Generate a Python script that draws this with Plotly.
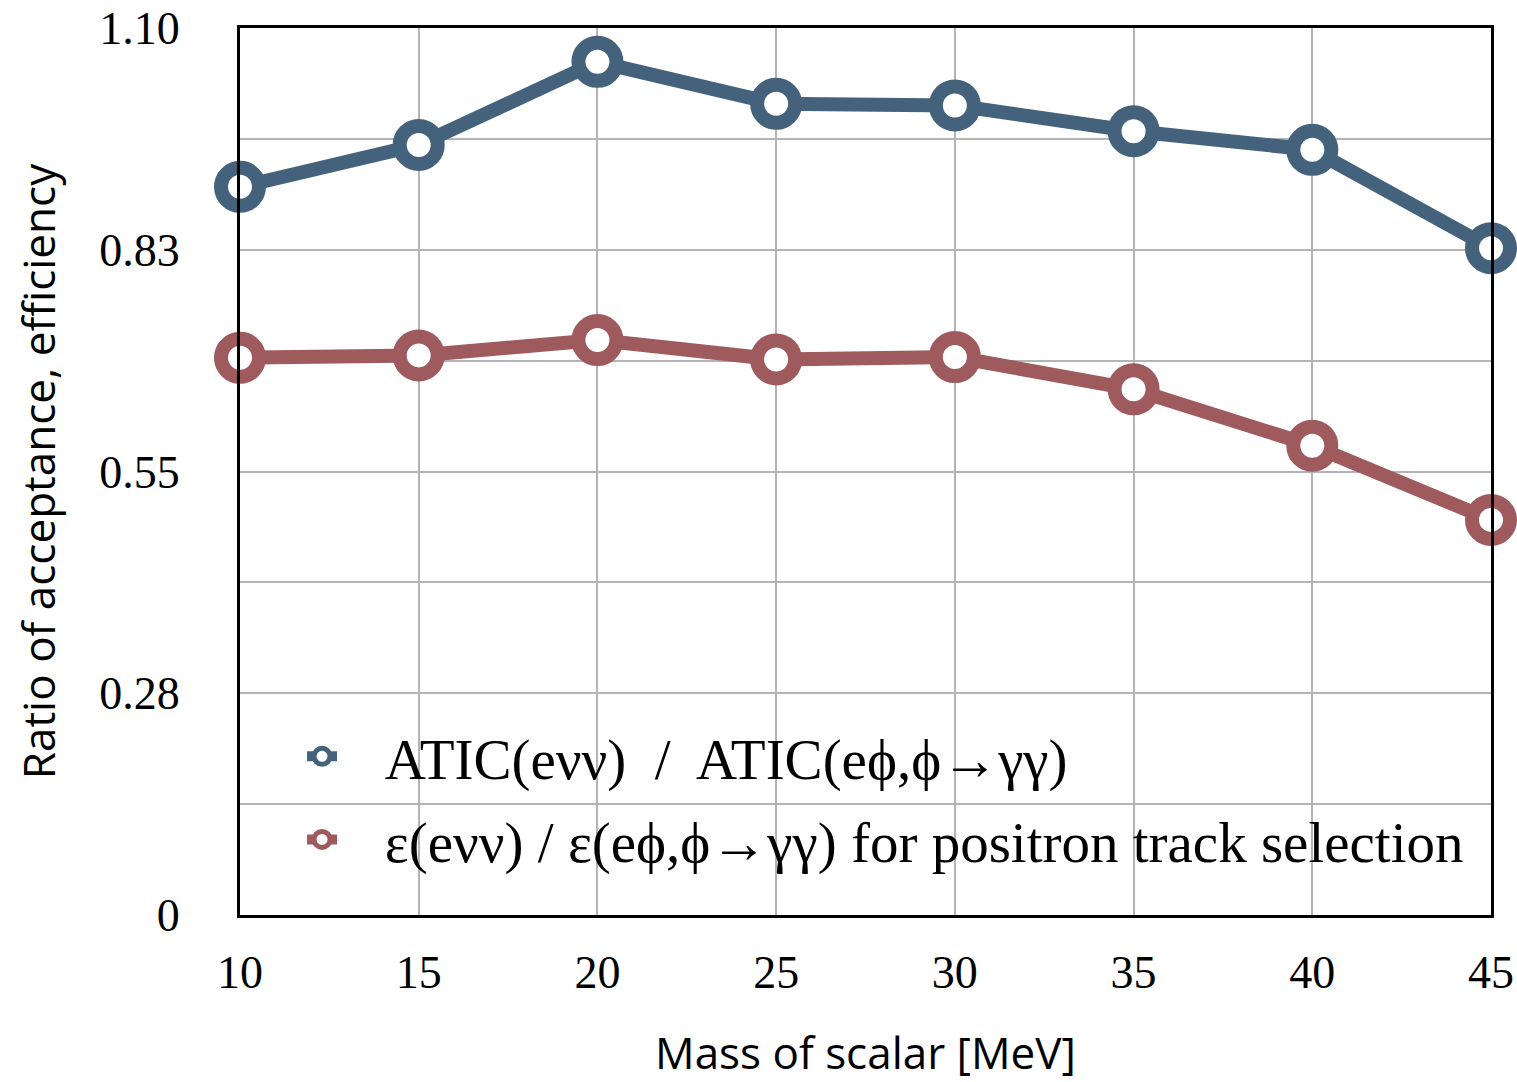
import plotly.graph_objects as go

# Scalar mass points [MeV]
mass = [10, 15, 20, 25, 30, 35, 40, 45]

# Ratio of acceptances ATIC(evv) / ATIC(e phi, phi -> gamma gamma)
atic_ratio = [0.903, 0.955, 1.058, 1.006, 1.004, 0.972, 0.949, 0.827]

# Ratio of efficiencies for positron track selection
eff_ratio = [0.691, 0.694, 0.713, 0.689, 0.692, 0.652, 0.582, 0.490]

y_tickvals = [0, 0.1375, 0.275, 0.4125, 0.55, 0.6875, 0.825, 0.9625, 1.10]
y_ticktext = ["0", "", "0.28", "", "0.55", "", "0.83", "", "1.10"]

BLUE = "#44627c"
RED = "#9e5a5c"
SERIF = "Liberation Serif, Times New Roman, serif"
SANS = "Open Sans, sans-serif"

# small gap between legend symbol and label text
GAP = "\u2002\u00a0"

fig = go.Figure()

for i, (name, vals, col) in enumerate([
    (GAP + "ATIC(eνν)  /  ATIC(eϕ,ϕ→γγ)", atic_ratio, BLUE),
    (GAP + "ε(eνν) / ε(eϕ,ϕ→γγ) for positron track selection", eff_ratio, RED),
]):
    fig.add_trace(go.Scatter(
        x=mass, y=vals, name=name, mode="lines+markers",
        legendgroup=f"g{i}",
        line=dict(color=col, width=14),
        marker=dict(size=38, color="white", line=dict(color=col, width=14)),
        cliponaxis=False,
    ))

fig.update_layout(
    width=1517, height=1082,
    margin=dict(l=240, r=26, t=28, b=167),
    paper_bgcolor="white", plot_bgcolor="white",
    showlegend=True,
    legend=dict(
        x=0.0496, y=0.228, xanchor="left", yanchor="top",
        bgcolor="rgba(0,0,0,0)",
        font=dict(family=SERIF, size=57, color="black"),
        tracegroupgap=6,
    ),
    xaxis=dict(
        range=[10, 45], tickvals=mass, ticktext=[str(m) for m in mass],
        automargin=False,
        showgrid=True, gridcolor="#b4b4b4", gridwidth=2,
        showline=True, linecolor="black", linewidth=3, mirror=True,
        ticks="", ticklabelstandoff=15,
        tickfont=dict(family=SERIF, size=46, color="black"),
        title=dict(text="Mass of scalar [MeV]", standoff=70,
                   font=dict(family=SANS, size=44, color="black")),
        zeroline=False,
    ),
    yaxis=dict(
        range=[0, 1.10], tickvals=y_tickvals, ticktext=y_ticktext,
        automargin=False,
        showgrid=True, gridcolor="#b4b4b4", gridwidth=2,
        showline=True, linecolor="black", linewidth=3, mirror=True,
        ticks="", ticklabelstandoff=48,
        tickfont=dict(family=SERIF, size=46, color="black"),
        title=dict(text="Ratio of acceptance, efficiency", standoff=30,
                   font=dict(family=SANS, size=44, color="black")),
        zeroline=False,
    ),
)

fig.write_html("out.html")
